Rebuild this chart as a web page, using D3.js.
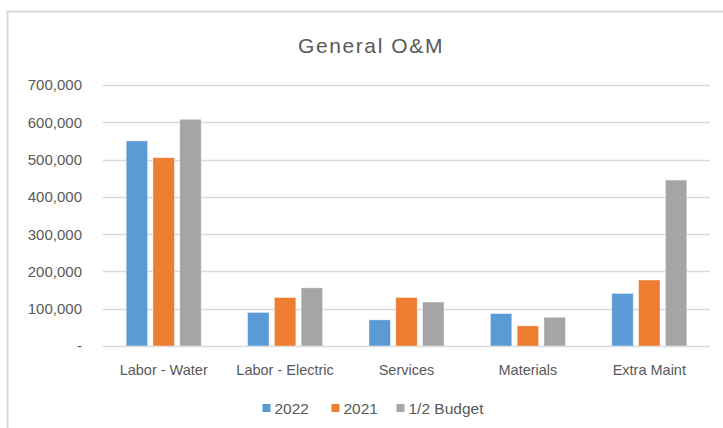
<!DOCTYPE html>
<html>
<head>
<meta charset="utf-8">
<script src="https://cdn.jsdelivr.net/npm/d3@7"></script>
<style>
  body { margin: 0; background: #fff; }
  text { font-family: "Liberation Sans", Arial, sans-serif; fill: #595959; }
</style>
</head>
<body>
<div id="chart"></div>
<script>
// data
var categories = ["Labor - Water", "Labor - Electric", "Services", "Materials", "Extra Maint"];
var seriesNames = ["2022", "2021", "1/2 Budget"];
var values2022 = [550000, 90000, 70000, 87000, 141000];
var values2021 = [505000, 130000, 130000, 54000, 177000];
var valuesBudget = [608000, 156000, 118000, 77000, 445000];
var yTicks = [0, 100000, 200000, 300000, 400000, 500000, 600000, 700000];
var colors = ["#5B9BD5", "#ED7D31", "#A5A5A5"];

var width = 723, height = 428;
var plot = {left: 103, right: 710, top: 85, bottom: 346};

var svg = d3.select("#chart").append("svg")
    .attr("width", width)
    .attr("height", height);

// chart area border (only left and top show in the crop)
svg.append("line")
    .attr("x1", 6).attr("x2", width).attr("y1", 11.5).attr("y2", 11.5)
    .attr("stroke", "#d9d9d9").attr("stroke-width", 2);
svg.append("line")
    .attr("x1", 7.5).attr("x2", 7.5).attr("y1", 11).attr("y2", height)
    .attr("stroke", "#d9d9d9").attr("stroke-width", 2);

svg.append("text")
    .attr("x", 371)
    .attr("y", 53)
    .attr("text-anchor", "middle")
    .attr("font-size", 21)
    .attr("letter-spacing", 1.6)
    .text("General O&M");

var x = d3.scaleBand()
    .domain(categories)
    .range([plot.left, plot.right])
    .padding(0);

var xInner = d3.scaleBand()
    .domain(seriesNames)
    .range([0, x.bandwidth()])
    .paddingInner(0.2)
    .paddingOuter(0.865);

var y = d3.scaleLinear()
    .domain([0, 700000])
    .range([plot.bottom, plot.top]);

// gridlines
svg.append("g")
  .selectAll("line")
    .data(yTicks)
    .enter()
    .append("line")
    .attr("x1", plot.left)
    .attr("x2", plot.right)
    .attr("y1", function(d) { return Math.round(y(d)) + 0.5; })
    .attr("y2", function(d) { return Math.round(y(d)) + 0.5; })
    .attr("stroke", "#d9d9d9")
    .attr("stroke-width", 1.5);

// y tick labels
var fmt = d3.format(",");
svg.append("g")
  .selectAll("text")
    .data(yTicks)
    .enter()
    .append("text")
    .attr("x", 82)
    .attr("y", function(d) { return y(d); })
    .attr("dy", "0.36em")
    .attr("text-anchor", "end")
    .attr("font-size", 15)
    .text(function(d) { return d === 0 ? "-" : fmt(d); });

var table = categories.map(function(c, i) {
  return {category: c, vals: [values2022[i], values2021[i], valuesBudget[i]]};
});

var groups = svg.append("g")
  .selectAll("g")
    .data(table)
    .enter()
    .append("g")
    .attr("transform", function(d) { return "translate(" + x(d.category) + ",0)"; });

groups.selectAll("rect")
    .data(function(d) {
      return seriesNames.map(function(s, j) { return {series: s, value: d.vals[j], j: j}; });
    })
    .enter()
    .append("rect")
    .attr("x", function(d) { return xInner(d.series); })
    .attr("width", xInner.bandwidth())
    .attr("y", function(d) { return y(d.value); })
    .attr("height", function(d) { return y(0) - y(d.value); })
    .attr("fill", function(d) { return colors[d.j]; })
    .attr("stroke", "#ffffff")
    .attr("stroke-opacity", 0.5)
    .attr("stroke-width", 0.75);

// category labels
svg.append("g")
  .selectAll("text")
    .data(categories)
    .enter()
    .append("text")
    .attr("x", function(d) { return x(d) + x.bandwidth() / 2; })
    .attr("y", 375)
    .attr("text-anchor", "middle")
    .attr("font-size", 14.5)
    .text(function(d) { return d; });

// legend
var legendX = [262.5, 331.5, 396.5];
var legend = svg.append("g")
  .selectAll("g")
    .data(seriesNames)
    .enter()
    .append("g")
    .attr("transform", function(d, i) { return "translate(" + legendX[i] + ",404)"; });

legend.append("rect")
    .attr("width", 8)
    .attr("height", 8)
    .attr("fill", function(d, i) { return colors[i]; });

legend.append("text")
    .attr("x", 12)
    .attr("y", 9.5)
    .attr("font-size", 15.5)
    .text(function(d) { return d; });
</script>
</body>
</html>
